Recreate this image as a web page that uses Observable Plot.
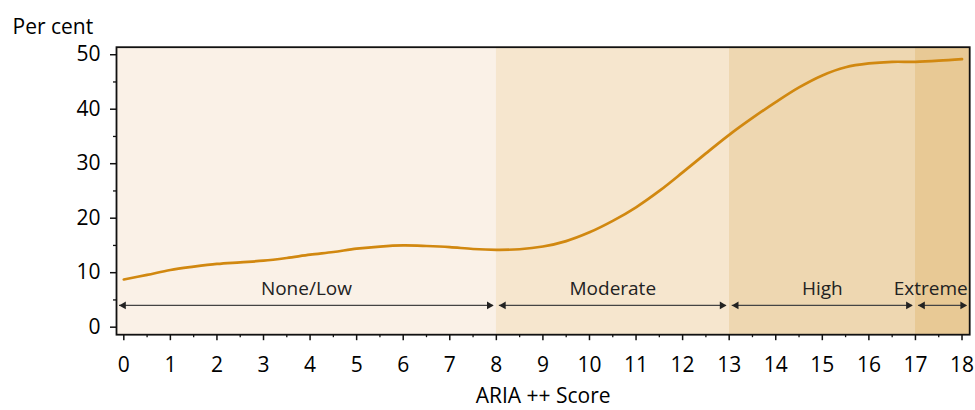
<!DOCTYPE html>
<html>
<head>
<meta charset="utf-8">
<script src="https://cdn.jsdelivr.net/npm/d3@7"></script>
<script src="https://cdn.jsdelivr.net/npm/@observablehq/plot@0.6"></script>
<style>
  body { margin: 0; background: #fff; }
</style>
</head>
<body>
<div id="chart"></div>
<script>
// ---- data ----
const scoreX = [0, 0.5, 1, 1.5, 2, 2.5, 3, 3.5, 4, 4.5, 5, 5.5, 6, 6.5, 7, 7.5, 8, 8.5, 9, 9.5, 10, 10.5, 11, 11.5, 12, 12.5, 13, 13.5, 14, 14.5, 15, 15.5, 16, 16.5, 17, 17.5, 18];
const perCent = [8.75, 9.6, 10.5, 11.1, 11.6, 11.9, 12.2, 12.7, 13.3, 13.8, 14.4, 14.8, 15.0, 14.9, 14.7, 14.35, 14.2, 14.3, 14.8, 15.8, 17.4, 19.5, 22.0, 25.0, 28.4, 31.9, 35.3, 38.4, 41.3, 44.0, 46.2, 47.7, 48.4, 48.7, 48.7, 48.9, 49.2];
const regionNames = ["None/Low", "Moderate", "High", "Extreme"];
const regionBounds = [8, 13, 17]; // boundaries between score bands
const xTicks = d3.range(0, 19, 1);
const yTicks = [0, 10, 20, 30, 40, 50];

// ---- styles ----
const regionFills = ["#FAF1E7", "#F6E6CE", "#EED7B1", "#E8C995"];
const lineColor = "#D18810";
const ink = "#111";
const xDomain = [-0.157, 18.165];
const yDomain = [-1.38, 51.38];

const edges = [xDomain[0], ...regionBounds, xDomain[1]];
const regions = regionNames.map((name, i) => ({
  name, x1: edges[i], x2: edges[i + 1], fill: regionFills[i],
  mid: (edges[i] + edges[i + 1]) / 2
}));
const curve = scoreX.map((x, i) => ({x, y: perCent[i]}));
const arrowY = 4, labelY = 7.1;

const chart = Plot.plot({
  width: 975,
  height: 410,
  marginTop: 46.7,
  marginLeft: 116,
  marginRight: 5.8,
  marginBottom: 75.8,
  style: {fontFamily: "'Open Sans', sans-serif", fontSize: "21px", color: ink, background: "#fff"},
  x: {domain: xDomain},
  y: {domain: yDomain},
  color: {type: "identity"},
  marks: [
    Plot.rect(regions, {x1: "x1", x2: "x2", fill: "fill"}),
    // arrows
    Plot.ruleY(regions, {x1: "x1", x2: "x2", y: () => arrowY, stroke: "#444", strokeWidth: 1.4, insetLeft: 3, insetRight: 3}),
    Plot.dot(regions, {x: "x2", y: () => arrowY, symbol: "triangle2", r: 3.7, rotate: 90, fill: "#222", stroke: "none", dx: -7.1}),
    Plot.dot(regions, {x: "x1", y: () => arrowY, symbol: "triangle2", r: 3.7, rotate: -90, fill: "#222", stroke: "none", dx: 7.1}),
    // band labels
    Plot.text(regions.filter(d => d.name !== "Extreme"), {x: "mid", y: () => labelY, text: "name", fontSize: 19, fill: "#222"}),
    Plot.text(regions.filter(d => d.name === "Extreme"), {x: "x2", y: () => labelY, text: "name", fontSize: 19, fill: "#222", textAnchor: "end", dx: -2}),
    // curve
    Plot.line(curve, {x: "x", y: "y", stroke: lineColor, strokeWidth: 2.7, curve: "catmull-rom"}),
    // axes
    Plot.axisX({ticks: xTicks, tickSize: 6, tickPadding: 16, label: null, stroke: ink, strokeWidth: 1.5, fontSize: 21, fill: "#000"}),
    Plot.axisX({ticks: d3.range(0.5, 18, 1), tickSize: 3, tickFormat: () => "", label: null, stroke: ink, strokeWidth: 1.3}),
    Plot.axisY({ticks: yTicks, tickSize: 6, tickPadding: 10, label: null, stroke: ink, strokeWidth: 1.5, fontSize: 21, fill: "#000"}),
    Plot.axisY({ticks: [5, 15, 25, 35, 45], tickSize: 3, tickFormat: () => "", label: null, stroke: ink, strokeWidth: 1.3}),
    Plot.frame({stroke: ink, strokeWidth: 1.8}),
    // titles
    Plot.text(["Per cent"], {frameAnchor: "top-left", lineAnchor: "middle", textAnchor: "start", dx: -104, dy: -20, fontSize: 21, fill: "#000"}),
    Plot.text(["ARIA ++ Score"], {frameAnchor: "bottom", lineAnchor: "middle", dy: 62, fontSize: 21, fill: "#000"})
  ]
});
document.getElementById("chart").appendChild(chart);
</script>
</body>
</html>
